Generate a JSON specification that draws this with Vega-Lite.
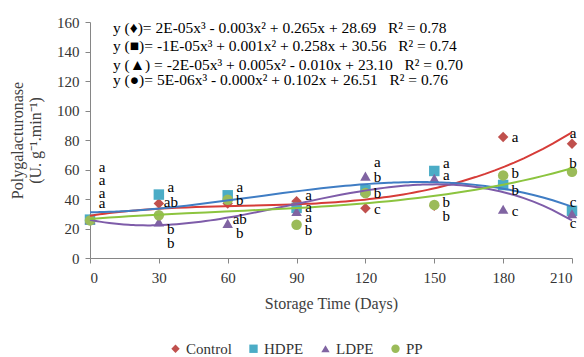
{
  "$schema": "https://vega.github.io/schema/vega-lite/v6.json",
  "width": 482,
  "height": 236,
  "autosize": {"type": "none"},
  "padding": {"left": 90, "top": 22, "right": 12, "bottom": 99},
  "background": "white",
  "config": {
    "font": "'Liberation Serif', 'Times New Roman', serif",
    "view": {"stroke": null},
    "axis": {
      "grid": false,
      "domainColor": "#868686",
      "tickColor": "#868686",
      "tickSize": 5,
      "labelFont": "'Liberation Serif', 'Times New Roman', serif",
      "labelFontSize": 15,
      "labelColor": "#333333",
      "titleFont": "'Liberation Serif', 'Times New Roman', serif",
      "titleFontSize": 16,
      "titleFontWeight": "normal",
      "titleColor": "#404040"
    },
    "legend": {
      "orient": "none",
      "legendX": 78,
      "legendY": 319,
      "direction": "horizontal",
      "labelFont": "'Liberation Serif', 'Times New Roman', serif",
      "labelFontSize": 15,
      "labelColor": "#333333",
      "symbolSize": 70,
      "symbolStrokeWidth": 0,
      "columnPadding": 14,
      "labelOffset": 3
    }
  },
  "datasets": {
    "pga": [
      {"series": "Control", "day": 0, "v": 26},
      {"series": "Control", "day": 30, "v": 37},
      {"series": "Control", "day": 60, "v": 37},
      {"series": "Control", "day": 90, "v": 38.5},
      {"series": "Control", "day": 120, "v": 33.7},
      {"series": "Control", "day": 150, "v": 35.5},
      {"series": "Control", "day": 180, "v": 82},
      {"series": "Control", "day": 210, "v": 77.5},
      {"series": "HDPE", "day": 0, "v": 26},
      {"series": "HDPE", "day": 30, "v": 43},
      {"series": "HDPE", "day": 60, "v": 42.5},
      {"series": "HDPE", "day": 90, "v": 34},
      {"series": "HDPE", "day": 120, "v": 46},
      {"series": "HDPE", "day": 150, "v": 59},
      {"series": "HDPE", "day": 180, "v": 49.5},
      {"series": "HDPE", "day": 210, "v": 32},
      {"series": "LDPE", "day": 0, "v": 26},
      {"series": "LDPE", "day": 30, "v": 24.5},
      {"series": "LDPE", "day": 60, "v": 23.5},
      {"series": "LDPE", "day": 90, "v": 31.5},
      {"series": "LDPE", "day": 120, "v": 55.5},
      {"series": "LDPE", "day": 150, "v": 54},
      {"series": "LDPE", "day": 180, "v": 33},
      {"series": "LDPE", "day": 210, "v": 30},
      {"series": "PP", "day": 0, "v": 25.5},
      {"series": "PP", "day": 30, "v": 29},
      {"series": "PP", "day": 60, "v": 39.5},
      {"series": "PP", "day": 90, "v": 22.5},
      {"series": "PP", "day": 120, "v": 44},
      {"series": "PP", "day": 150, "v": 36},
      {"series": "PP", "day": 180, "v": 56},
      {"series": "PP", "day": 210, "v": 58.5}
    ],
    "letters": [
      {"day": 0, "v": 61.7, "t": "a"},
      {"day": 0, "v": 52.9, "t": "a"},
      {"day": 0, "v": 44.3, "t": "a"},
      {"day": 0, "v": 37.3, "t": "a"},
      {"day": 30, "v": 48.3, "t": "a"},
      {"day": 30, "v": 38, "t": "ab"},
      {"day": 30, "v": 19.7, "t": "b"},
      {"day": 30, "v": 10, "t": "b"},
      {"day": 60, "v": 48.3, "t": "a"},
      {"day": 60, "v": 39.3, "t": "b"},
      {"day": 60, "v": 26.4, "t": "ab"},
      {"day": 60, "v": 17.2, "t": "b"},
      {"day": 90, "v": 43, "t": "a"},
      {"day": 90, "v": 34.8, "t": "a"},
      {"day": 90, "v": 27.8, "t": "a"},
      {"day": 90, "v": 19, "t": "b"},
      {"day": 120, "v": 65.3, "t": "a"},
      {"day": 120, "v": 55, "t": "b"},
      {"day": 120, "v": 43.8, "t": "b"},
      {"day": 120, "v": 33.2, "t": "c"},
      {"day": 150, "v": 64.2, "t": "a"},
      {"day": 150, "v": 56.3, "t": "a"},
      {"day": 150, "v": 38.2, "t": "b"},
      {"day": 150, "v": 28.5, "t": "b"},
      {"day": 180, "v": 82.2, "t": "a"},
      {"day": 180, "v": 57.4, "t": "b"},
      {"day": 180, "v": 46, "t": "b"},
      {"day": 180, "v": 31.9, "t": "c"},
      {"day": 210, "v": 85, "t": "a"},
      {"day": 210, "v": 64.2, "t": "b"},
      {"day": 210, "v": 38.2, "t": "c"},
      {"day": 210, "v": 23.5, "t": "c"}
    ],
    "eqs": [
      {"day": 10, "v": 156, "t": "y (♦)= 2E-05x³ - 0.003x² + 0.265x + 28.69\u00a0\u00a0\u00a0R² = 0.78"},
      {"day": 10, "v": 143.7, "t": "y (■)= -1E-05x³ + 0.001x² + 0.258x + 30.56\u00a0\u00a0\u00a0R² = 0.74"},
      {"day": 10, "v": 130.8, "t": "y (▲) = -2E-05x³ + 0.005x² - 0.010x + 23.10\u00a0\u00a0\u00a0R² = 0.70"},
      {"day": 10, "v": 120.7, "t": "y (●)= 5E-06x³ - 0.000x² + 0.102x + 26.51\u00a0\u00a0\u00a0R² = 0.76"}
    ]
  },
  "data": {"name": "pga"},
  "encoding": {
    "x": {
      "field": "day", "type": "quantitative",
      "scale": {"domain": [0, 210], "nice": false},
      "axis": {"values": [0, 30, 60, 90, 120, 150, 180, 210], "title": "Storage Time (Days)", "labelPadding": 7, "titlePadding": 10}
    },
    "y": {
      "field": "v", "type": "quantitative",
      "scale": {"domain": [0, 160], "nice": false},
      "axis": {"values": [0, 20, 40, 60, 80, 100, 120, 140, 160], "title": ["Polygalacturonase", "(U. g⁻¹.min⁻¹)"], "titleLineHeight": 18, "labelPadding": 6, "titlePadding": 13}
    }
  },
  "layer": [
    {
      "mark": {"type": "point", "filled": true, "opacity": 1, "size": 110},
      "encoding": {
        "color": {
          "field": "series", "type": "nominal", "title": null,
          "scale": {"domain": ["Control", "HDPE", "LDPE", "PP"], "range": ["#C0504D", "#4BACC6", "#8064A2", "#9BBB59"]}
        },
        "shape": {
          "field": "series", "type": "nominal", "title": null,
          "scale": {"domain": ["Control", "HDPE", "LDPE", "PP"], "range": ["diamond", "square", "triangle-up", "circle"]}
        }
      }
    },
    {
      "transform": [
        {"regression": "v", "on": "day", "groupby": ["series"], "method": "poly", "order": 3, "extent": [0, 210]}
      ],
      "mark": {"type": "line", "strokeWidth": 2},
      "encoding": {
        "color": {
          "field": "series", "type": "nominal", "legend": null,
          "scale": {"domain": ["Control", "HDPE", "LDPE", "PP"], "range": ["#D63C38", "#3F7DC4", "#7E5CA9", "#8CC43F"]}
        }
      }
    },
    {
      "data": {"name": "letters"},
      "transform": [{"filter": "datum.day < 210"}],
      "mark": {"type": "text", "dx": 12, "align": "center", "baseline": "middle", "fontSize": 15, "color": "#000000"},
      "encoding": {"text": {"field": "t"}}
    },
    {
      "data": {"name": "letters"},
      "transform": [{"filter": "datum.day >= 210"}],
      "mark": {"type": "text", "dx": 1, "align": "center", "baseline": "middle", "fontSize": 15, "color": "#000000"},
      "encoding": {"text": {"field": "t"}}
    },
    {
      "data": {"name": "eqs"},
      "mark": {"type": "text", "align": "left", "baseline": "middle", "fontSize": 15.5, "color": "#000000"},
      "encoding": {"text": {"field": "t"}}
    }
  ],
  "resolve": {"scale": {"color": "independent", "shape": "independent"}}
}
